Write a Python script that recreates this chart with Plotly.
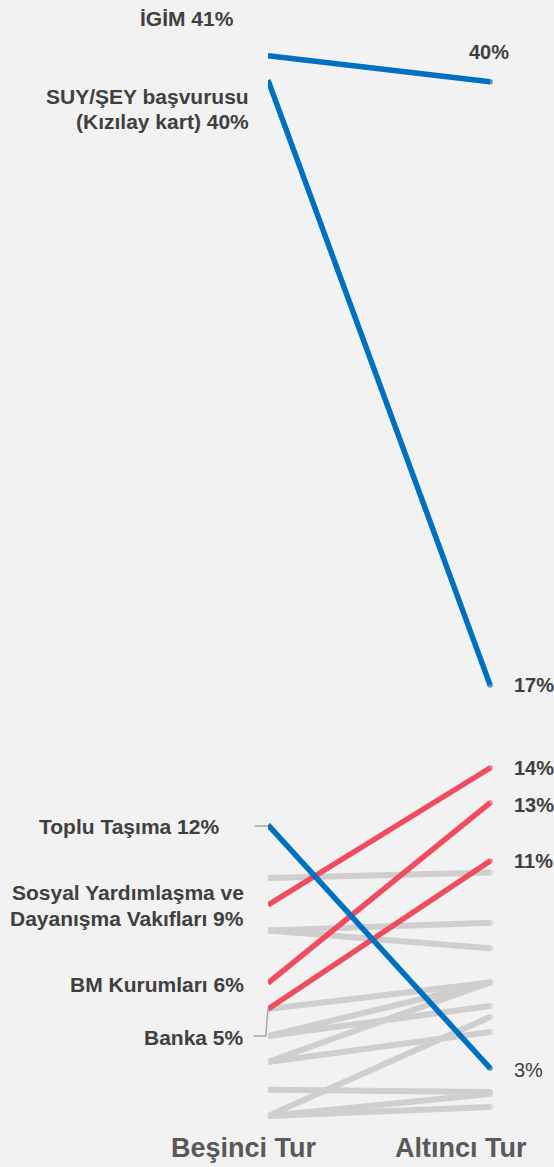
import plotly.graph_objects as go

# ---- data ----
categories = ["Beşinci Tur", "Altıncı Tur"]

blue_names = ["İGİM", "SUY/ŞEY başvurusu (Kızılay kart)", "Toplu Taşıma"]
blue_start = [41.0, 40.08, 11.95]
blue_end = [40.02, 17.24, 2.77]

red_names = ["Sosyal Yardımlaşma ve Dayanışma Vakıfları", "BM Kurumları", "Banka"]
red_start = [8.93, 5.98, 5.0]
red_end = [14.10, 12.78, 10.59]

grey_start = [9.95, 7.96, 7.96, 5.0, 3.98, 3.98, 3.0, 3.0, 0.96, 1.95, 0.96, 0.96]
grey_end = [10.15, 8.26, 7.29, 6.0, 6.0, 5.11, 6.0, 4.13, 4.70, 1.87, 1.79, 1.30]

# left labels: (lines, y value of label, right edge offset in x units)
left_labels = [
    (["İGİM 41%"], [42.42], -0.145),
    (["SUY/ŞEY başvurusu", "(Kızılay kart) 40%"], [39.45, 38.50], -0.075),
    (["Toplu Taşıma 12%"], [11.91], -0.211),
    (["Sosyal Yardımlaşma ve", "Dayanışma Vakıfları 9%"], [9.40, 8.42], -0.097),
    (["BM Kurumları 6%"], [5.93], -0.097),
    (["Banka 5%"], [3.93], -0.097),
]
# right labels: (text, y value, x, anchor, bold)
right_labels = [
    ("40%", 41.14, 1.095, "right", True),
    ("17%", 17.24, 1.098, "left", True),
    ("14%", 14.10, 1.098, "left", True),
    ("13%", 12.70, 1.098, "left", True),
    ("11%", 10.59, 1.098, "left", True),
    ("3%", 2.70, 1.098, "left", False),
]

BLUE = "#0070c0"
RED = "#f04b5f"
GREY = "#d0cece"
TEXT = "#404040"
BG = "#f2f2f2"
FONT = "Liberation Sans, Arial, sans-serif"
XMAX = 1.09

fig = go.Figure()
xs = [0, 1]


def px(xv):
    # data x -> paper x
    return xv / XMAX


def add_line(y0, y1, color, width):
    fig.add_trace(go.Scatter(
        x=xs, y=[y0, y1], mode="lines+markers",
        line=dict(color=color, width=width),
        marker=dict(color=color, size=[0, width], line=dict(width=0)),
        hoverinfo="skip", showlegend=False, cliponaxis=False,
    ))


for a, b in zip(grey_start, grey_end):
    add_line(a, b, GREY, 6)
for a, b in zip(red_start, red_end):
    add_line(a, b, RED, 5.5)
for a, b in zip(blue_start, blue_end):
    add_line(a, b, BLUE, 5.5)

annotations = []
for lines, ys, xr in left_labels:
    for t, yv in zip(lines, ys):
        annotations.append(dict(
            x=px(xr), y=yv, xref="paper", yref="y", text=t, showarrow=False,
            xanchor="right", yanchor="middle",
            font=dict(family=FONT, size=21, color=TEXT, weight="bold"),
        ))
for t, yv, xv, anc, bold in right_labels:
    annotations.append(dict(
        x=px(xv), y=yv, xref="paper", yref="y", text=t, showarrow=False,
        xanchor=anc, yanchor="middle",
        font=dict(family=FONT, size=20, color=TEXT,
                  weight="bold" if bold else "normal"),
    ))
# category labels
cat_x = [-0.11, 0.87]
for c, xv in zip(categories, cat_x):
    annotations.append(dict(
        x=px(xv), y=-0.25, xref="paper", yref="y", text=c, showarrow=False,
        xanchor="center", yanchor="middle",
        font=dict(family=FONT, size=27, color="#595959", weight="bold"),
    ))

# connector lines for labels
shapes = [
    dict(type="line", xref="paper", yref="y", x0=px(-0.06), x1=0, y0=11.91, y1=11.91,
         line=dict(color="#a6a6a6", width=1.5)),
    dict(type="path", xref="paper", yref="y",
         path=f"M {px(-0.065)},{3.98} L {px(-0.01)},{3.98} L 0,{red_start[2]}",
         line=dict(color="#a6a6a6", width=1.5)),
]

fig.update_layout(
    width=554, height=1167,
    margin=dict(l=268, r=44, t=0, b=0, pad=0),
    paper_bgcolor=BG, plot_bgcolor=BG,
    xaxis=dict(range=[0, XMAX], visible=False, fixedrange=True),
    yaxis=dict(range=[-0.967, 43.104], visible=False, fixedrange=True),
    annotations=annotations, shapes=shapes,
    showlegend=False,
)

fig.write_html("out.html", config={"displayModeBar": False},
               post_script="document.body.style.margin='0px';document.body.style.background='#f2f2f2';")
